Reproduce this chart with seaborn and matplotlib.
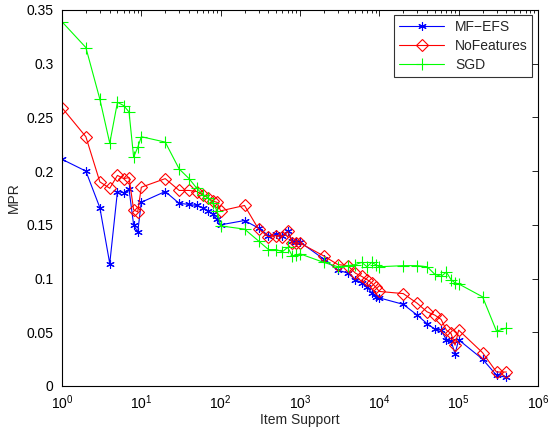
import numpy as np
import seaborn as sns
import matplotlib.pyplot as plt
from matplotlib.ticker import LogLocator, NullFormatter, FixedLocator

support = [1, 2, 3, 4, 5, 6, 7, 8, 9,
           10, 20, 30, 40, 50, 60, 70, 80, 90,
           100, 200, 300, 400, 500, 600, 700, 800, 900,
           1000, 2000, 3000, 4000, 5000, 6000, 7000, 8000, 9000,
           1e4, 2e4, 3e4, 4e4, 5e4, 6e4, 7e4, 8e4, 9e4,
           1e5, 2e5, 3e5, 4e5]

mf_efs = [0.211, 0.200, 0.166, 0.114, 0.181, 0.180, 0.183, 0.150, 0.143,
          0.171, 0.181, 0.170, 0.169, 0.168, 0.166, 0.163, 0.160, 0.155,
          0.150, 0.154, 0.147, 0.140, 0.141, 0.140, 0.144, 0.135, 0.134,
          0.134, 0.118, 0.108, 0.105, 0.099, 0.096, 0.092, 0.087, 0.083,
          0.082, 0.076, 0.066, 0.058, 0.053, 0.052, 0.043, 0.042, 0.030,
          0.043, 0.025, 0.010, 0.008]

no_features = [0.259, 0.232, 0.190, 0.184, 0.196, 0.193, 0.194, 0.164, 0.162,
               0.185, 0.193, 0.182, 0.182, 0.181, 0.178, 0.175, 0.172, 0.171,
               0.163, 0.168, 0.146, 0.139, 0.140, 0.139, 0.144, 0.133, 0.133,
               0.133, 0.121, 0.113, 0.112, 0.105, 0.102, 0.099, 0.096, 0.092,
               0.088, 0.086, 0.077, 0.069, 0.066, 0.062, 0.052, 0.049, 0.038,
               0.052, 0.031, 0.013, 0.013]

sgd = [0.339, 0.315, 0.267, 0.226, 0.264, 0.261, 0.255, 0.213, 0.222,
       0.232, 0.227, 0.202, 0.193, 0.184, 0.178, 0.175, 0.170, 0.163,
       0.149, 0.146, 0.135, 0.127, 0.127, 0.125, 0.129, 0.121, 0.122,
       0.123, 0.115, 0.111, 0.112, 0.113, 0.115, 0.111, 0.115, 0.113,
       0.111, 0.112, 0.112, 0.111, 0.104, 0.102, 0.106, 0.099, 0.096,
       0.095, 0.083, 0.051, 0.054]

y_ticks = [0, 0.05, 0.1, 0.15, 0.2, 0.25, 0.3, 0.35]
y_labels = ['0', '0.05', '0.1', '0.15', '0.2', '0.25', '0.3', '0.35']

sns.set_style("white")
plt.rcParams['font.family'] = ['Liberation Sans', 'DejaVu Sans']
plt.rcParams['mathtext.fontset'] = 'custom'
plt.rcParams['mathtext.rm'] = 'Liberation Sans'

fig = plt.figure(figsize=(5.5, 4.32), dpi=100)
ax = fig.add_axes([0.1127, 0.1065, 0.8655, 0.8705])

sns.lineplot(x=support, y=mf_efs, ax=ax, color='blue', lw=0.8,
             marker=(6, 2, 0), markersize=6, markeredgecolor='blue',
             markeredgewidth=0.8, label='MF\u2212EFS')
sns.lineplot(x=support, y=no_features, ax=ax, color='red', lw=0.8,
             marker='D', markersize=6, markerfacecolor='none',
             markeredgecolor='red', markeredgewidth=0.8, label='NoFeatures')
sns.lineplot(x=support, y=sgd, ax=ax, color='#00ff00', lw=0.8,
             marker='+', markersize=8, markeredgecolor='#00ff00',
             markeredgewidth=0.8, label='SGD')

ax.set_xscale('log')
ax.set_xlim(1, 1e6)
ax.set_ylim(0, 0.35)
ax.yaxis.set_major_locator(FixedLocator(y_ticks))
ax.set_yticklabels(y_labels)
ax.xaxis.set_major_locator(LogLocator(base=10, numticks=10))
ax.xaxis.set_minor_locator(LogLocator(base=10, subs=np.arange(2, 10), numticks=100))
ax.xaxis.set_minor_formatter(NullFormatter())

ax.tick_params(which='both', direction='in', top=True, right=True,
               labelsize=10, colors='black', width=0.6)
ax.tick_params(which='major', length=4)
ax.tick_params(which='minor', length=2.5)
ax.tick_params(axis='y', pad=6)
ax.tick_params(axis='x', pad=5)
for s in ax.spines.values():
    s.set_color('black')
    s.set_linewidth(0.8)

ax.set_xlabel('Item Support', fontsize=10, labelpad=1)
ax.set_ylabel('MPR', fontsize=10, labelpad=4)

leg = ax.legend(loc='upper right', fontsize=10, frameon=True, fancybox=False,
                edgecolor='black', handlelength=3.2, borderaxespad=0.4,
                labelspacing=0.35, borderpad=0.35)
leg.get_frame().set_linewidth(0.8)

fig.savefig('out.png', dpi=100)
